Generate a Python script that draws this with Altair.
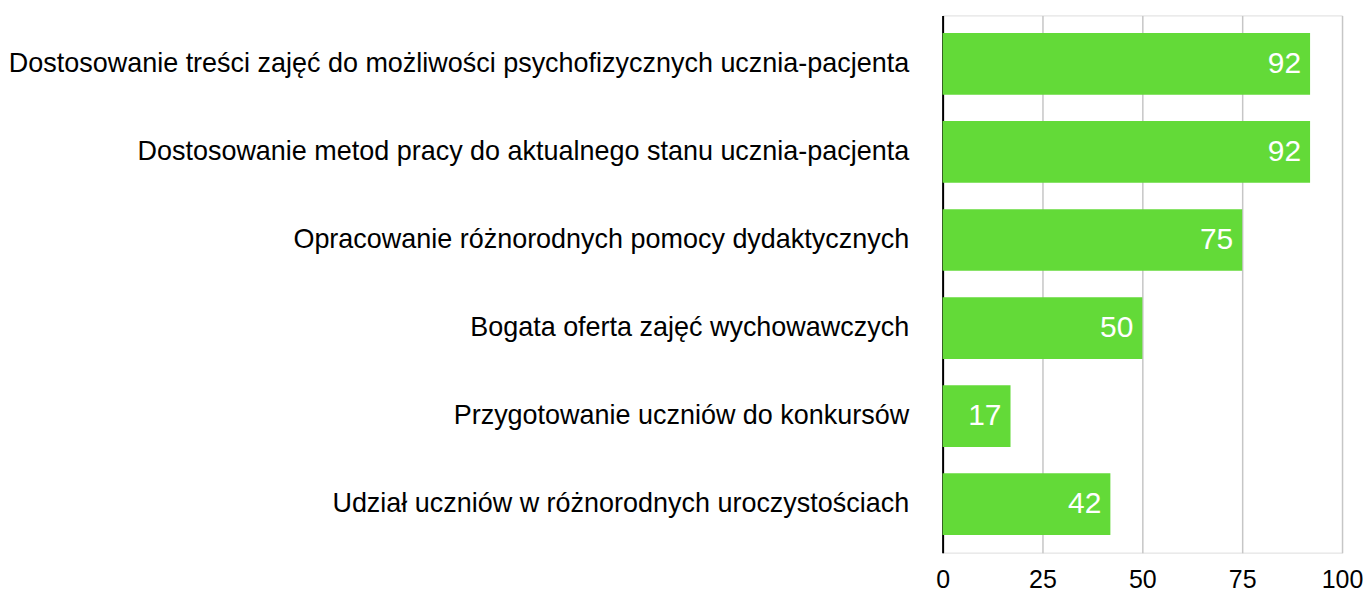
import altair as alt
import pandas as pd

categories = [
    "Dostosowanie treści zajęć do możliwości psychofizycznych ucznia-pacjenta",
    "Dostosowanie metod pracy do aktualnego stanu ucznia-pacjenta",
    "Opracowanie różnorodnych pomocy dydaktycznych",
    "Bogata oferta zajęć wychowawczych",
    "Przygotowanie uczniów do konkursów",
    "Udział uczniów w różnorodnych uroczystościach",
]
values = [92, 92, 75, 50, 17, 42]

df = pd.DataFrame({"kategoria": categories, "wartosc": values})

FONT = "Liberation Sans"
GREEN = "#63DA38"

y_enc = alt.Y(
    "kategoria:N",
    sort=None,
    scale=alt.Scale(paddingInner=0.3, paddingOuter=0.2),
    axis=alt.Axis(
        title=None,
        domain=True,
        domainColor="#000000",
        domainWidth=2,
        ticks=False,
        grid=False,
        labelFont=FONT,
        labelFontSize=27,
        labelColor="#000000",
        labelPadding=34,
        labelLimit=1000,
    ),
)

x_enc = alt.X(
    "wartosc:Q",
    scale=alt.Scale(domain=[0, 100], nice=False),
    axis=alt.Axis(
        title=None,
        values=[0, 25, 50, 75, 100],
        domain=False,
        ticks=False,
        grid=True,
        gridColor="#c6c6c6",
        gridWidth=1.5,
        labelFont=FONT,
        labelFontSize=25,
        labelColor="#000000",
        labelPadding=15,
        labelFlush=False,
    ),
)

bars = alt.Chart(df).mark_bar(color=GREEN).encode(x=x_enc, y=y_enc)

labels = alt.Chart(df).mark_text(
    align="right",
    baseline="middle",
    dx=-9,
    color="#ffffff",
    font=FONT,
    fontSize=30,
).encode(
    x=alt.X("wartosc:Q"),
    y=alt.Y("kategoria:N", sort=None),
    text=alt.Text("wartosc:Q"),
)

chart = (
    alt.layer(bars, labels)
    .properties(width=400, height=538, padding={"left": 0, "top": 7, "right": 0, "bottom": 0})
    .configure_view(strokeWidth=0)
    .configure(background="#ffffff")
)

chart.save("out.html", embed_options={"renderer": "svg", "actions": False})
